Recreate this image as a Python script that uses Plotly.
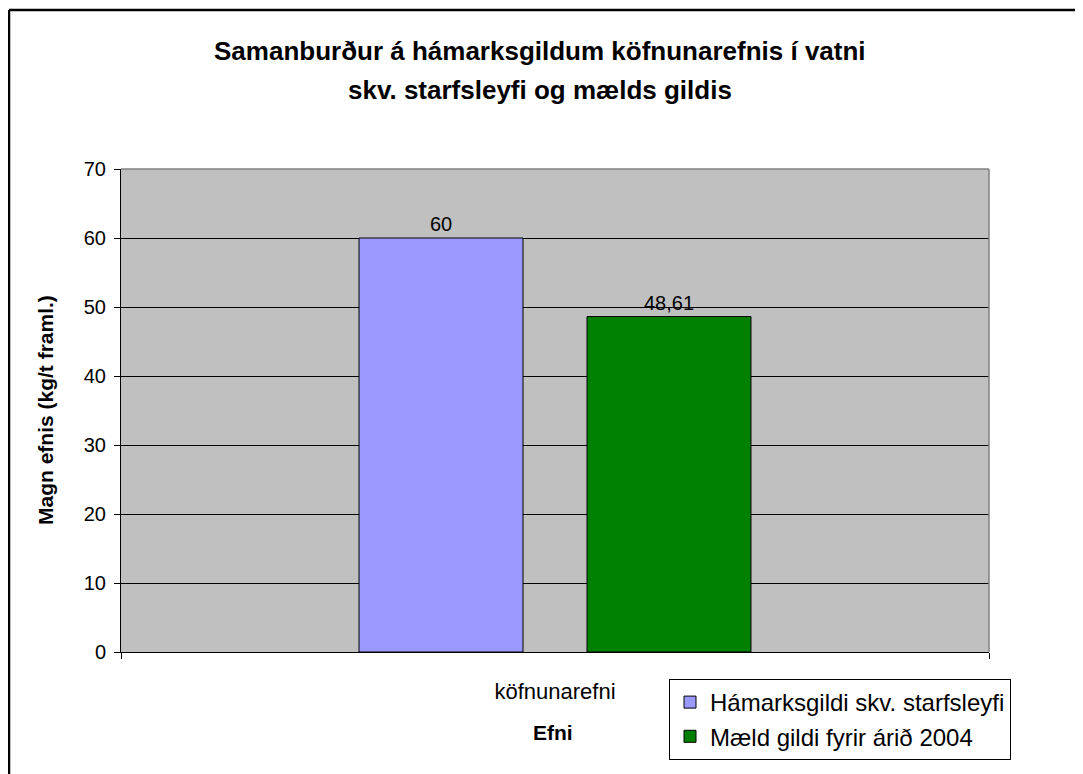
import plotly.graph_objects as go

categories = ["köfnunarefni"]
series_names = ["Hámarksgildi skv. starfsleyfi", "Mæld gildi fyrir árið 2004"]
series_values = [[60], [48.61]]
series_colors = ["#9999FF", "#008000"]
y_ticks = [0, 10, 20, 30, 40, 50, 60, 70]

# page body adds an 8px offset; work in screen coordinates and convert
OFF = 8
W, H = 1083 - OFF, 774 - OFF
L, R, T, B = 121 - OFF, 989 - OFF, 169 - OFF, 652 - OFF
FONT = "Liberation Sans, Arial"

fig = go.Figure()
for name, vals, col in zip(series_names, series_values, series_colors):
    fig.add_trace(go.Bar(
        x=categories, y=vals, name=name,
        marker=dict(color=col, line=dict(color="black", width=1)),
        text=[f"{v:g}".replace(".", ",") for v in vals],
        textposition="outside",
        textfont=dict(family=FONT, size=20, color="black"),
        cliponaxis=False,
    ))

def px(sx):
    return (sx - OFF - L) / (R - L)

def py(sy):
    return (B - (sy - OFF)) / (B - T)

fig.update_layout(
    width=W, height=H,
    margin=dict(l=L, r=W - R, t=T, b=H - B),
    paper_bgcolor="white",
    plot_bgcolor="#C0C0C0",
    barmode="group",
    bargap=0.4747,
    bargroupgap=0.2807,
    font=dict(family=FONT, size=20, color="black"),
    showlegend=True,
    legend=dict(
        x=px(669), y=py(679), xanchor="left", yanchor="top",
        bgcolor="white", bordercolor="black", borderwidth=1,
        font=dict(size=24), tracegroupgap=3,
    ),
    xaxis=dict(
        range=[-0.5, 0.5],
        showline=True, linecolor="black", linewidth=1,
        ticks="outside", ticklen=6, tickcolor="black", tickson="boundaries",
        showgrid=False, tickfont=dict(size=22), ticklabelstandoff=20,
    ),
    yaxis=dict(
        range=[0, 70], tickvals=y_ticks,
        showline=True, linecolor="black", linewidth=1,
        ticks="outside", ticklen=6, tickcolor="black",
        showgrid=True, gridcolor="black", gridwidth=1,
        zeroline=False, tickfont=dict(size=20), ticklabelstandoff=4,
    ),
    annotations=[
        dict(text="<b>Samanburður á hámarksgildum köfnunarefnis í vatni</b>",
             x=px(540), y=py(51), xref="paper", yref="paper",
             showarrow=False, font=dict(size=26), xanchor="center", yanchor="middle"),
        dict(text="<b>skv. starfsleyfi og mælds gildis</b>",
             x=px(540), y=py(90), xref="paper", yref="paper",
             showarrow=False, font=dict(size=26), xanchor="center", yanchor="middle"),
        dict(text="<b>Efni</b>",
             x=px(553), y=py(732), xref="paper", yref="paper",
             showarrow=False, font=dict(size=21), xanchor="center", yanchor="middle"),
        dict(text="<b>Magn efnis (kg/t framl.)</b>",
             x=px(45), y=py(410), xref="paper", yref="paper", textangle=-90,
             showarrow=False, font=dict(size=21), xanchor="center", yanchor="middle"),
    ],
    shapes=[
        dict(type="line", xref="paper", yref="paper", x0=0, x1=1, y0=1, y1=1,
             line=dict(color="#808080", width=1.5)),
        dict(type="line", xref="paper", yref="paper", x0=1, x1=1, y0=0, y1=1,
             line=dict(color="#808080", width=1.5)),
        dict(type="line", xref="paper", yref="paper", x0=px(9), x1=px(9), y0=py(10), y1=py(800),
             line=dict(color="black", width=2.5)),
        dict(type="line", xref="paper", yref="paper", x0=px(9), x1=px(1100), y0=py(10), y1=py(10),
             line=dict(color="black", width=2.5)),
    ],
)

fig.write_html("out.html")
